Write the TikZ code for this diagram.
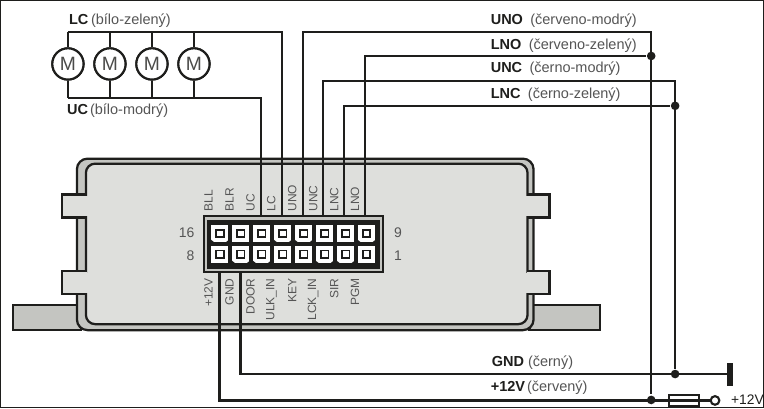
\documentclass[tikz,border=0pt]{standalone}
\usepackage{fontspec}
\setmainfont{Liberation Sans}
\usepackage{xcolor}
\usetikzlibrary{positioning,calc,backgrounds}
\definecolor{boxgray}{HTML}{C4C5C1}
\definecolor{facegray}{HTML}{DEDFDC}
\definecolor{inkblack}{HTML}{1E1E1C}
\definecolor{txtgray}{HTML}{555555}
\newcommand{\wirelabel}[2]{\textbf{#1} {\color{txtgray}(#2)}}
\begin{document}
\begin{tikzpicture}[x=.75pt,y=-.75pt,every path/.style={draw=inkblack,line width=1.7pt}]
  \tikzstyle{motor} = [circle,draw,line width=1.6pt,fill=white,minimum size=23.5pt,inner sep=0pt,font=\fontsize{14.5}{15}\selectfont,text=inkblack!80];
  \tikzstyle{wirelbl} = [draw=none,inner sep=0pt,anchor=west,text=inkblack,font=\fontsize{10.9}{12}\selectfont];
  \tikzstyle{pinlbl} = [draw=none,inner sep=0pt,rotate=90,text=txtgray,font=\fontsize{9}{10}\selectfont];
  \tikzstyle{numlbl} = [draw=none,inner sep=0pt,text=txtgray,font=\fontsize{10.5}{12}\selectfont];
  \tikzstyle{joint} = [circle,fill=inkblack,draw=none,minimum size=6.5pt,inner sep=0pt];
  \useasboundingbox (0,0) rectangle (764,407);
  \path[draw=none,fill=white] (0,0) rectangle (764,407);
  % housing
  \draw[fill=boxgray] (12,305) rectangle (80,330);
  \draw[fill=boxgray] (530,305) rectangle (601,330);
  \draw[fill=boxgray,rounded corners=8pt] (76,158) rectangle (534,330);
  \draw[fill=facegray,rounded corners=7pt] (85,163) rectangle (528,324);
  \foreach \ytop in {194,271} {
    \draw[fill=facegray] (86,\ytop) -- (61,\ytop) -- (61,\ytop+23) -- (86,\ytop+23);
    \draw[fill=facegray] (527,\ytop) -- (550,\ytop) -- (550,\ytop+23) -- (527,\ytop+23);
    \path[draw=none,fill=facegray] (84,\ytop+1.2) rectangle (88,\ytop+21.8);
    \path[draw=none,fill=facegray] (525,\ytop+1.2) rectangle (529,\ytop+21.8);
  }
  % connector
  \node[draw,line width=1.5pt,fill=boxgray,minimum width=135pt,minimum height=42pt,inner sep=0pt] (conn) at (293,244) {};
  \node[draw,line width=1pt,fill=inkblack,minimum width=129pt,minimum height=36pt,inner sep=0pt] (connin) at (293,244) {};
  \foreach \col in {1,...,8} {
    \foreach \row/\rowy in {t/233,b/254} {
      \node[draw=none,fill=white,minimum width=12.8pt,minimum height=13pt,inner sep=0pt] (pin\row\col) at ({198.5+21*\col},\rowy) {};
      \node[draw=inkblack,fill=white,line width=1.2pt,minimum size=5.6pt,inner sep=0pt] at (pin\row\col) {};
    }
  }
  % cut corners of the round pins
  \foreach \col/\row in {1/t,4/t,5/t,8/t,2/b,3/b,6/b,7/b} {
    \path[draw=none,fill=inkblack] (pin\row\col.south west) -- ++(5,0) -- ++(-5,-4) -- cycle;
    \path[draw=none,fill=inkblack] (pin\row\col.south east) -- ++(-5,0) -- ++(5,-4) -- cycle;
  }
  % pin names
  \foreach \col/\txt in {1/BLL,2/BLR,3/UC,4/LC,5/UNO,6/UNC,7/LNC,8/LNO} {
    \node[pinlbl,anchor=west] (top\col) at ({187+21*\col},212) {\txt};
  }
  \foreach \col/\txt in {1/+12V,2/GND,3/DOOR,4/ULK\_IN,5/KEY,6/LCK\_IN,7/SIR,8/PGM} {
    \node[pinlbl,anchor=east] (bot\col) at ({187+21*\col},277) {\txt};
  }
  \node[numlbl,anchor=east] (n16) at (195,232) {16};
  \node[numlbl,anchor=east] (n8) at (195,255) {8};
  \node[numlbl,anchor=west] (n9) at (393,232) {9};
  \node[numlbl,anchor=west] (n1) at (393,255) {1};
  % motors
  \node[motor] (m1) at (67,63) {M};
  \node[motor,right=6.5pt of m1] (m2) {M};
  \node[motor,right=6.5pt of m2] (m3) {M};
  \node[motor,right=6.5pt of m3] (m4) {M};
  \coordinate (lctop) at (m1|-0,31);
  \coordinate (ucbot) at (m1|-0,97);
  \coordinate (lcpin) at (282,216);
  \coordinate (ucpin) at (261,216);
  \coordinate (unopin) at (303,216);
  \coordinate (uncpin) at (323,216);
  \coordinate (lncpin) at (344,216);
  \coordinate (lnopin) at (365,216);
  \coordinate (gndpin) at (240,272);
  \coordinate (vccpin) at (219,272);
  \coordinate (busa) at (652,31);
  \coordinate (busb) at (676,80);
  \node[joint] (jlno) at (652,55) {};
  \node[joint] (jlnc) at (676,105) {};
  \node[joint] (jgnd) at (676,374) {};
  \node[joint] (jvcc) at (652,400) {};
  \coordinate (gndend) at (731,374);
  % wires
  \draw (lctop) -| (lcpin);
  \draw (ucbot) -| (ucpin);
  \foreach \m in {1,...,4} {
    \draw (m\m) -- (m\m|-lctop);
    \draw (m\m) -- (m\m|-ucbot);
    \node[motor] at (m\m) {M};
  }
  \draw (unopin) |- (busa) -- (jvcc);
  \draw (lnopin) |- (jlno);
  \draw (uncpin) |- (busb) -- (jgnd);
  \draw (lncpin) |- (jlnc);
  \draw (gndpin) |- (gndend);
  \draw[line width=3.8pt] (731,363) -- (gndend) -- (731,386);
  \node[draw,line width=1.5pt,fill=white,minimum width=22pt,minimum height=8pt,inner sep=0pt] (fuse) at (685,400.5) {};
  \node[circle,draw,line width=1.6pt,fill=white,minimum size=6.5pt,inner sep=0pt] (term) at (716,400.5) {};
  \draw (vccpin) |- (fuse.center);
  \draw (fuse.center) -- (term);
  % labels
  \node[wirelbl] (lclbl) at (67,20) {\wirelabel{LC\hspace{-1pt}}{bílo-zelený}};
  \node[wirelbl] (uclbl) at (65,110) {\wirelabel{UC\hspace{-1.5pt}}{bílo-modrý}};
  \node[wirelbl] (unolbl) at (490,20) {\wirelabel{UNO\hspace{2.5pt}}{červeno-modrý}};
  \node[wirelbl] (lnolbl) at (490,45) {\wirelabel{LNO\hspace{2.5pt}}{červeno-zelený}};
  \node[wirelbl] (unclbl) at (490,68) {\wirelabel{UNC\hspace{2.5pt}}{černo-modrý}};
  \node[wirelbl] (lnclbl) at (490,94) {\wirelabel{LNC\hspace{2.5pt}}{černo-zelený}};
  \node[wirelbl] (gndlbl) at (491,363) {\wirelabel{GND}{černý}};
  \node[wirelbl] (vcclbl) at (490,388) {\wirelabel{+12V\hspace{-1.5pt}}{červený}};
  \node[wirelbl,font=\fontsize{10.4}{12}\selectfont] (vcclbl2) at (731,400) {+12V};
\end{tikzpicture}
\end{document}
